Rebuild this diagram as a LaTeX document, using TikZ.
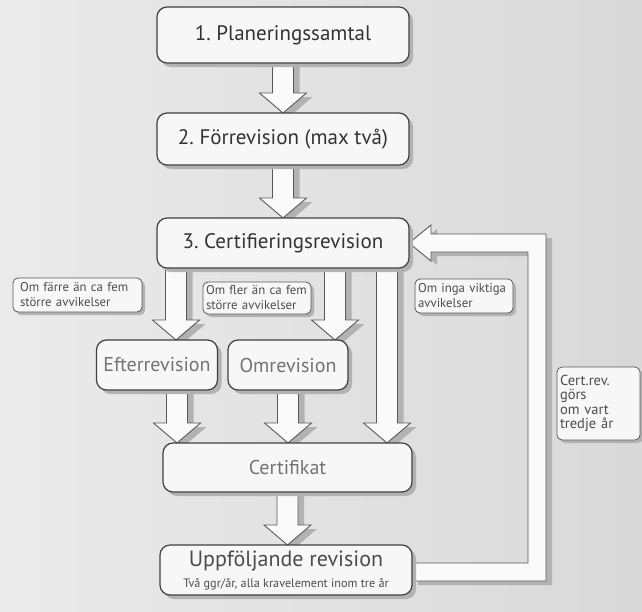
\documentclass[tikz,border=0pt]{standalone}
\usepackage{fontspec}
\setmainfont{PT Sans}
\usetikzlibrary{calc}
\frenchspacing

\pgfdeclarelayer{bg}
\pgfdeclarelayer{arrows}
\pgfsetlayers{bg,arrows,main}

\tikzset{
  shadowed/.style={preaction={draw=none, fill=black!30, transform canvas={shift={(#1)}}}},
  stepbox/.style={fill=black!3, rounded corners=10pt, outer sep=0pt,
    text=black!80, inner sep=0pt, minimum width=252, minimum height=52,
    shadowed={4pt,-4pt}, font=\fontsize{21}{23}\selectfont},
  subbox/.style={stepbox, minimum width=121, minimum height=50, text=black!55,
    font=\fontsize{20}{22}\selectfont},
  notebox/.style={fill=black!3, rounded corners=5pt, outer sep=0pt,
    text=black!70, align=left, inner sep=3pt, shadowed={3pt,-3pt},
    font=\fontsize{12.8}{15}\selectfont},
  frame/.style={draw=black!75, line width=1.2pt, rounded corners=10pt},
  noteframe/.style={draw=black!65, line width=0.8pt, rounded corners=5pt},
  fatbody/.style={draw=black!65, line width=0.9pt, fill=black!2, line join=miter,
    shadowed={6pt,-4pt}},
}

% hollow block arrow from a start point down to the top of a node
\newcommand\fatarrow[2]{%
  \path[fatbody] let \p1=(#1), \p2=(#1 |- #2.north) in
    (\x1-10.5pt,\y1) -- (\x1+10.5pt,\y1) -- (\x1+10.5pt,\y2+20pt) -- (\x1+23.5pt,\y2+20pt)
    -- (\p2) -- (\x1-23.5pt,\y2+20pt) -- (\x1-10.5pt,\y2+20pt) -- cycle;
}

\begin{document}
\begin{tikzpicture}[x=1pt,y=-1pt]
\useasboundingbox (0,0) rectangle (642,611);
\begin{pgfonlayer}{bg}
\shade[left color=black!8, right color=black!15] (0,0) rectangle (642,611);
\end{pgfonlayer}

% main chain
\node[stepbox, minimum height=56] (plan) at (283,35) {1. Planeringssamtal};
\node[stepbox] (forrev) at (283,139) {2. Förrevision (max två)};
\node[stepbox, minimum height=50] (certrev) at (283,243) {3. Certifieringsrevision};
\node[subbox] (efter) at (157,365) {Efterrevision};
\node[subbox, minimum width=120] (omrev) at (288,365) {Omrevision};
\node[subbox, minimum width=249, minimum height=49] (certifikat) at (287.5,467.5) {Certifikat};
\node[stepbox, minimum height=50, text=black!70, align=center, font=\fontsize{22}{22}\selectfont] (uppf) at (286,570)
  {Uppföljande revision\\[-1pt]{\fontsize{12.2}{13}\selectfont Två ggr/år, alla kravelement inom tre år}};

% notes
\node[notebox, text width=115, inner xsep=7pt, minimum height=34] (farre) at (77.5,295) {Om färre än ca fem\\större avvikelser};
\node[notebox, text width=102, minimum height=32] (fler) at (257,298) {Om fler än ca fem\\större avvikelser};
\node[notebox, text width=92, minimum height=34] (inga) at (464,296) {Om inga viktiga\\avvikelser};
\node[notebox, text width=77, minimum height=73, font=\fontsize{14.5}{14.5}\selectfont] (trear) at (598.5,403.5) {Cert.rev. görs\\om vart\\tredje år};

\foreach \n in {plan,forrev,certrev,efter,omrev,certifikat,uppf}
  \draw[frame] (\n.south west) rectangle (\n.north east);
\foreach \n in {farre,fler,inga,trear}
  \draw[noteframe] (\n.south west) rectangle (\n.north east);

% start points of the arrows
\coordinate (s3a) at ([xshift=-107]certrev.south);
\coordinate (s3b) at ([xshift=52]certrev.south);
\coordinate (s3c) at ([xshift=104]certrev.south);
\coordinate (s4a) at ([xshift=20]efter.south);
\coordinate (turn) at (537,0);

\begin{pgfonlayer}{arrows}
\fatarrow{plan.south}{forrev}
\fatarrow{forrev.south}{certrev}
\fatarrow{s3a}{efter}
\fatarrow{s3b}{omrev}
\fatarrow{s3c}{certifikat}
\fatarrow{s4a}{certifikat}
\fatarrow{omrev.south}{certifikat}
\fatarrow{certifikat.south}{uppf}

% back to the certification audit
\path[fatbody] let \p1=(uppf.east), \p2=(certrev.east), \p3=(turn) in
  (\x1,\y1-11pt) -- (\x3+9pt,\y1-11pt) -- (\x3+9pt,\y2+9pt) -- (\x2+22pt,\y2+9pt)
  -- (\x2+22pt,\y2+18pt) -- (\p2) -- (\x2+22pt,\y2-18pt) -- (\x2+22pt,\y2-9pt)
  -- (\x3-9pt,\y2-9pt) -- (\x3-9pt,\y1+7pt) -- (\x1,\y1+7pt) -- cycle;
\end{pgfonlayer}

% colour resync, kept off the page
\begin{scope}[shift={(-800,0)}]
\draw[red, line width=2pt] (20,30) rectangle (70,50);
\draw[black!75, line width=1.2pt, rounded corners=10pt] (20,150) rectangle (70,170);
\draw[black, line width=1.2pt] (20,430) -- (130,430) -- (130,470) -- (20,470) -- cycle;
\end{scope}
\end{tikzpicture}
\end{document}
